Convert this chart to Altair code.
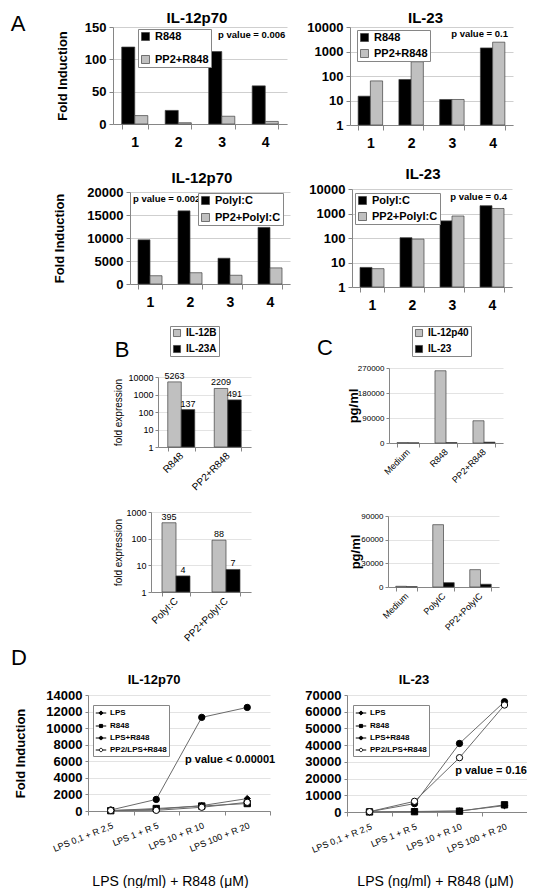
import altair as alt
import pandas as pd

FONT = "Liberation Sans"
AX = "#868686"
GRID_A = "#cfcfcf"
GRID_L = "#e3e3e3"
BLACK = "#000000"
GREY = "#c0c0c0"
M = 8  # page margin

# ---------------- data ----------------
A_CATS = ["1", "2", "3", "4"]
A1_SERIES = ["R848", "PP2+R848"]
A1L_R848 = [119, 21, 112, 59]
A1L_PP2 = [13, 2, 12, 4]
A1R_R848 = [15, 72, 11, 1400]
A1R_PP2 = [63, 380, 11, 2400]
A2_SERIES = ["PolyI:C", "PP2+PolyI:C"]
A2L_POLY = [9600, 15900, 5600, 12300]
A2L_PP2 = [1800, 2450, 1900, 3500]
A2R_POLY = [6.3, 103, 500, 2080]
A2R_PP2 = [5.6, 90, 790, 1600]
P_TEXTS = ["p value = 0.006", "p value = 0.1", "p value = 0.002", "p value = 0.4",
           "p value < 0.00001", "p value = 0.16"]
TITLES = ["IL-12p70", "IL-23"]
LETTERS = ["A", "B", "C", "D"]

B_SERIES = ["IL-12B", "IL-23A"]
B1_CATS = ["R848", "PP2+R848"]
B1_IL12B = [5263, 2209]
B1_IL23A = [137, 491]
B2_CATS = ["PolyI:C", "PP2+PolyI:C"]
B2_IL12B = [395, 88]
B2_IL23A = [4, 7]

C_SERIES = ["IL-12p40", "IL-23"]
C1_CATS = ["Medium", "R848", "PP2+R848"]
C1_IL12P40 = [1200, 260000, 80000]
C1_IL23 = [600, 1500, 3000]
C2_CATS = ["Medium", "PolyIC", "PP2+PolyIC"]
C2_IL12P40 = [900, 79000, 22000]
C2_IL23 = [400, 5500, 3500]

D_CATS = ["LPS 0,1 + R 2,5", "LPS 1 + R 5", "LPS 10 + R 10", "LPS 100 + R 20"]
D_SERIES = ["LPS", "R848", "LPS+R848", "PP2/LPS+R848"]
D1_LPS = [60, 200, 650, 1500]
D1_R848 = [40, 300, 600, 900]
D1_LPSR = [120, 1400, 11300, 12500]
D1_PP2 = [60, 80, 450, 1050]
D2_LPS = [100, 300, 600, 3800]
D2_R848 = [50, 200, 500, 4300]
D2_LPSR = [200, 5000, 41000, 66000]
D2_PP2 = [200, 6400, 32500, 64000]
D_XTITLE = "LPS (ng/ml) + R848 (\u03bcM)"

LEG_PATHS = [
    "M-1,0H1M0,-0.4L0.4,0L0,0.4L-0.4,0Z",
    "M-1,0H1M-0.3,-0.3H0.3V0.3H-0.3Z",
    "M-1,0H1M-0.32,0A0.32,0.32,0,1,0,0.32,0A0.32,0.32,0,1,0,-0.32,0Z",
    "M-1,0H-0.32M0.32,0H1M-0.32,0A0.32,0.32,0,1,0,0.32,0A0.32,0.32,0,1,0,-0.32,0Z",
]

RES = dict(x="independent", y="independent", color="independent", fill="independent",
           shape="independent", xOffset="independent", stroke="independent")


def long_df(cats, series, vals):
    rows = []
    for s, vs in zip(series, vals):
        for c, v in zip(cats, vs):
            rows.append({"cat": c, "series": s, "value": v})
    return pd.DataFrame(rows)


def spacer(w, h, letter=None, tx=0, ty=0):
    base = alt.Chart(pd.DataFrame({"t": [letter or ""]}))
    if letter:
        ch = base.mark_text(font=FONT, fontSize=22, align="center", baseline="middle",
                            color="black").encode(x=alt.value(tx), y=alt.value(ty), text="t:N")
    else:
        ch = base.mark_point(opacity=0)
    return ch.properties(width=w, height=h)


def ptext_layer(text, px, py, align, fs):
    return alt.Chart(pd.DataFrame({"t": [text]})).mark_text(
        font=FONT, fontSize=fs, fontWeight="bold", align=align, baseline="middle", color="black"
    ).encode(x=alt.value(px), y=alt.value(py), text="t:N")


def title_params(text, fs, offset, dx, dy=0):
    return alt.TitleParams(text=text, font=FONT, fontSize=fs, fontWeight="bold", color="black",
                           offset=offset, dx=dx, dy=dy, anchor="middle", frame="group")


def a_x():
    return alt.Axis(title=None, labelAngle=0, labelFont=FONT, labelFontSize=14, labelFontWeight="bold",
                    labelColor="black", labelPadding=6, tickBand="extent", tickSize=5, tickColor=AX,
                    domainColor=AX, grid=False)


def a_y(values, h, title, tx):
    kw = dict(values=values, format="d", labelFont=FONT, labelFontSize=13, labelFontWeight="bold",
              labelColor="black", labelPadding=3, tickSize=4, tickColor=AX, domainColor=AX,
              gridColor=GRID_A)
    if title:
        kw.update(title=title, titleX=tx, titleY=h / 2, titleAngle=270, titleAlign="center",
                  titleBaseline="middle", titleFont=FONT, titleFontSize=13, titleFontWeight="bold",
                  titleColor="black")
    else:
        kw["title"] = None
    return alt.Axis(**kw)


def bc_x(fs):
    return alt.Axis(title=None, labelAngle=315, labelAlign="right", labelBaseline="middle",
                    labelFont=FONT, labelFontSize=fs, labelColor="black", labelPadding=3,
                    tickBand="extent", tickSize=4, tickColor=AX, domainColor=AX, grid=False)


def bc_y(values, h, title, tx, fs, tfs, tw):
    return alt.Axis(values=values, format="d", labelFont=FONT, labelFontSize=fs, labelColor="black",
                    labelPadding=2, tickSize=3, tickColor=AX, domainColor=AX, gridColor=GRID_L,
                    title=title, titleX=tx, titleY=h / 2, titleAngle=270, titleAlign="center",
                    titleBaseline="middle", titleFont=FONT, titleFontSize=tfs, titleFontWeight=tw,
                    titleColor="black")


def box_legend(lx, ly, fs, row_pad, sym, pad=2):
    return alt.Legend(orient="none", legendX=lx, legendY=ly, title=None, direction="vertical",
                      strokeColor=AX, fillColor="white", padding=pad, symbolType="square",
                      symbolSize=sym, symbolStrokeColor="#404040", symbolStrokeWidth=0.7,
                      labelFont=FONT, labelFontSize=fs, labelFontWeight="bold", labelColor="black",
                      rowPadding=row_pad, labelOffset=4)


def bar_panel(cats, series, vals, colors, w, h, yscale, base_val, yaxis, xaxis, legend, pad_inner,
              value_labels=False, ptext=None, title=None):
    df = long_df(cats, series, vals)
    base = alt.Chart(df)
    enc = dict(
        x=alt.X("cat:N", sort=cats, scale=alt.Scale(paddingInner=pad_inner, paddingOuter=pad_inner / 2),
                axis=xaxis),
        xOffset=alt.XOffset("series:N", sort=series,
                            scale=alt.Scale(domain=series, paddingInner=0, paddingOuter=0)),
        y=alt.Y("value:Q", scale=yscale, axis=yaxis),
    )
    layers = [base.mark_bar(stroke="#404040", strokeWidth=0.7).encode(
        y2=alt.Y2Datum(base_val),
        fill=alt.Fill("series:N", scale=alt.Scale(domain=series, range=colors), legend=legend), **enc)]
    if value_labels:
        layers.append(base.mark_text(dy=-6, font=FONT, fontSize=9, color="black").encode(
            text=alt.Text("value:Q", format="d"), **enc))
    if ptext:
        layers.append(ptext_layer(*ptext))
    ch = alt.layer(*layers).properties(width=w, height=h)
    if title:
        ch = ch.properties(title=title_params(*title))
    return ch


def d_panel(vals, ydom, yvals, w, h, leg_xy, ytitle, tx, xtx, xty, ptext, title):
    df = long_df(D_CATS, D_SERIES, vals)
    base = alt.Chart(df)
    x = alt.X("cat:N", sort=D_CATS, scale=alt.Scale(paddingInner=0, paddingOuter=0),
              axis=alt.Axis(title=D_XTITLE, titleX=xtx, titleY=xty, titleAlign="center",
                            titleBaseline="middle", titleFont=FONT, titleFontSize=14,
                            titleFontWeight="normal", titleColor="black",
                            labelAngle=338, labelAlign="right", labelBaseline="top", labelFont=FONT,
                            labelFontSize=9, labelColor="black", labelPadding=6, tickBand="extent",
                            tickSize=4, tickColor=AX, domainColor=AX, grid=False))
    ykw = dict(values=yvals, format="d", labelFont=FONT, labelFontSize=13, labelFontWeight="bold",
               labelColor="black", labelPadding=3, tickSize=3, tickColor=AX, domainColor=AX,
               gridColor=GRID_L)
    if ytitle:
        ykw.update(title=ytitle, titleX=tx, titleY=h / 2, titleAngle=270, titleAlign="center",
                   titleBaseline="middle", titleFont=FONT, titleFontSize=13, titleFontWeight="bold",
                   titleColor="black")
    else:
        ykw["title"] = None
    y = alt.Y("value:Q", scale=alt.Scale(domain=ydom, nice=False), axis=alt.Axis(**ykw))
    lines = base.mark_line(color="#6a6a6a", strokeWidth=1).encode(x=x, y=y, detail="series:N")
    pts = base.mark_point(filled=True, size=40, stroke="black", strokeWidth=1, opacity=1).encode(
        x=x, y=y,
        shape=alt.Shape("series:N", scale=alt.Scale(domain=D_SERIES,
                                                    range=["diamond", "square", "circle", "circle"]),
                        legend=None),
        fill=alt.Fill("series:N", scale=alt.Scale(domain=D_SERIES,
                                                  range=["black", "black", "black", "white"]),
                      legend=None))
    dleg = alt.Legend(orient="none", legendX=leg_xy[0], legendY=leg_xy[1], title=None,
                      strokeColor=AX, fillColor="white", padding=2, symbolSize=110,
                      symbolStrokeColor="black", symbolStrokeWidth=1, symbolOpacity=1,
                      labelFont=FONT, labelFontSize=8, labelFontWeight="bold", labelColor="black",
                      rowPadding=2, labelOffset=3)
    leg = base.mark_point(filled=False, opacity=0, size=110, strokeWidth=1).encode(
        x=x, y=y,
        shape=alt.Shape("series:N", scale=alt.Scale(domain=D_SERIES, range=LEG_PATHS), legend=dleg),
        fill=alt.Fill("series:N", scale=alt.Scale(domain=D_SERIES,
                                                  range=["black", "black", "black", "white"]),
                      legend=dleg),
        stroke=alt.Stroke("series:N", scale=alt.Scale(domain=D_SERIES,
                                                      range=["black", "black", "black", "black"]),
                          legend=dleg))
    ch = alt.layer(lines, pts, leg, ptext_layer(*ptext)).resolve_scale(
        shape="independent", fill="independent", stroke="independent").properties(
        width=w, height=h, title=title_params(*title))
    return ch


# ---------------- panels ----------------
A1L = bar_panel(A_CATS, A1_SERIES, [A1L_R848, A1L_PP2], [BLACK, GREY], 174, 97,
                alt.Scale(domain=[0, 150], nice=False), 0,
                a_y([0, 50, 100, 150], 97, "Fold Induction", -51), a_x(),
                box_legend(25, 2, 11, 11, 64), 0.4,
                ptext=(P_TEXTS[0], 105, 8, "left", 9.5), title=(TITLES[0], 15, 0, -3, 5))
A1R = bar_panel(A_CATS, A1_SERIES, [A1R_R848, A1R_PP2], [BLACK, GREY], 163, 98,
                alt.Scale(type="log", domain=[1, 10000], nice=False), 1,
                a_y([1, 10, 100, 1000, 10000], 98, None, 0), a_x(),
                box_legend(7, 3, 11, 4, 64), 0.4,
                ptext=(P_TEXTS[1], 158, 7, "right", 9.5), title=(TITLES[1], 15, 0, -6, 5))
A2L = bar_panel(A_CATS, A2_SERIES, [A2L_POLY, A2L_PP2], [BLACK, GREY], 160, 92,
                alt.Scale(domain=[0, 20000], nice=False), 0,
                a_y([0, 5000, 10000, 15000, 20000], 92, "Fold Induction", -71), a_x(),
                box_legend(68, 1, 11, 5, 64), 0.4,
                ptext=(P_TEXTS[2], 3, 7, "left", 9.5), title=(TITLES[0], 15, 0, -8))
A2R = bar_panel(A_CATS, A2_SERIES, [A2R_POLY, A2R_PP2], [BLACK, GREY], 160, 98,
                alt.Scale(type="log", domain=[1, 10000], nice=False), 1,
                a_y([1, 10, 100, 1000, 10000], 98, None, 0), a_x(),
                box_legend(3, 4, 11, 4, 64), 0.4,
                ptext=(P_TEXTS[3], 155, 8, "right", 9.5), title=(TITLES[1], 15, 1, -9))

B1 = bar_panel(B1_CATS, B_SERIES, [B1_IL12B, B1_IL23A], [GREY, BLACK], 93, 70,
               alt.Scale(type="log", domain=[1, 10000], nice=False), 1,
               bc_y([1, 10, 100, 1000, 10000], 70, "fold expression", -40, 9, 10, "normal"),
               bc_x(10), box_legend(12, -51, 10, 6, 50), 0.42, value_labels=True)
B2 = bar_panel(B2_CATS, B_SERIES, [B2_IL12B, B2_IL23A], [GREY, BLACK], 100, 80,
               alt.Scale(type="log", domain=[1, 1000], nice=False), 1,
               bc_y([1, 10, 100, 1000], 80, "fold expression", -33, 9, 10, "normal"),
               bc_x(10), None, 0.44, value_labels=True)
C1 = bar_panel(C1_CATS, C_SERIES, [C1_IL12P40, C1_IL23], [GREY, BLACK], 114, 75,
               alt.Scale(domain=[0, 270000], nice=False), 0,
               bc_y([0, 90000, 180000, 270000], 75, "pg/ml", -36, 8, 13, "bold"),
               bc_x(9), box_legend(23, -42, 10, 6, 50), 0.42)
C2 = bar_panel(C2_CATS, C_SERIES, [C2_IL12P40, C2_IL23], [GREY, BLACK], 111, 71,
               alt.Scale(domain=[0, 90000], nice=False), 0,
               bc_y([0, 30000, 60000, 90000], 71, "pg/ml", -33, 8, 13, "bold"),
               bc_x(9), None, 0.42)

D1 = d_panel([D1_LPS, D1_R848, D1_LPSR, D1_PP2], [0, 14000], list(range(0, 14001, 2000)),
             182, 116, (5, 10), "Fold Induction", -68, 82, 70,
             (P_TEXTS[4], 97, 65, "left", 11), (TITLES[0], 13, 2, -25))
D2 = d_panel([D2_LPS, D2_R848, D2_LPSR, D2_PP2], [0, 70000], list(range(0, 70001, 10000)),
             180, 117, (6, 10), None, 0, 88, 69,
             (P_TEXTS[5], 180, 76, "right", 11), (TITLES[1], 13, 2, -23))


# ---------------- absolute placement (flush bounds), page coords minus margin ----------------
def wrap(ch, dy):
    parts = [spacer(1, dy), ch] if dy > 0 else [ch]
    return alt.vconcat(*parts, spacing=0, bounds="flush").resolve_scale(**RES)


def row(items, letters=()):
    parts = []
    cur = 0
    li = dict((i, l) for i, l in letters)
    for i, (x, ch, dy) in enumerate(items):
        x = x - M
        if i in li:
            letter, tx, ty = li[i]
            parts.append(spacer(x - cur, 1, letter, tx, ty))
        else:
            parts.append(spacer(x - cur, 1))
        parts.append(wrap(ch, dy))
        cur = x
    return alt.hconcat(*parts, spacing=0, bounds="flush").resolve_scale(**RES)


rows = [
    (27, row([(113, A1L, 0), (350, A1R, 0)], [(0, (LETTERS[0], 18 - M, -3))])),
    (189, row([(130, A2L, 3), (352, A2R, 0)])),
    (368, row([(158, B1, 9), (389, C1, 0)],
              [(0, (LETTERS[1], 122 - M, -18)), (1, (LETTERS[2], 167, -20))])),
    (512, row([(151, B2, 0), (388, C2, 4)])),
    (695, row([(88, D1, 0), (347, D2, 0)], [(0, (LETTERS[3], 19 - M, -37))])),
]

parts = []
cur = 0
for y, r in rows:
    y = y - M
    parts.append(spacer(1, y - cur))
    parts.append(r)
    cur = y

chart = alt.vconcat(*parts, spacing=0, bounds="flush").resolve_scale(**RES).properties(
    autosize=alt.AutoSizeParams(type="none"),
    padding={"left": 0, "top": 0, "right": 535 - 2 * M, "bottom": 896 - 2 * M},
).configure(font=FONT).configure_view(stroke=None)

chart.save("out.html", embed_options={"renderer": "svg", "actions": False})
